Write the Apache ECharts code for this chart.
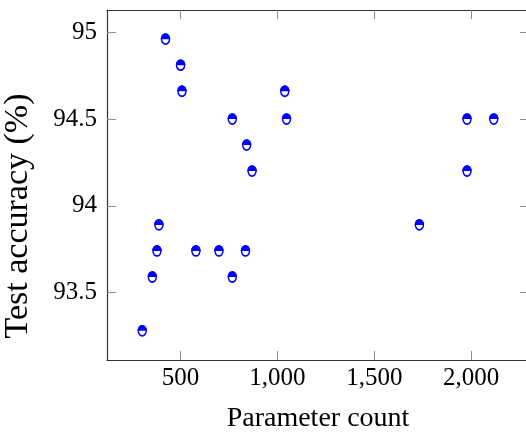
<!DOCTYPE html>
<html>
<head>
<meta charset="utf-8">
<script src="https://cdn.jsdelivr.net/npm/echarts@6/dist/echarts.min.js"></script>
<style>
html,body{margin:0;padding:0;background:#fff;}
#chart{width:526px;height:435px;}
</style>
</head>
<body>
<div id="chart"></div>
<script>
// Data
const params   = [302, 354, 378, 388, 422, 500, 507, 579, 698, 767, 767, 835, 841, 869, 1038, 1047, 1733, 1979, 1979, 2117];
const accuracy = [93.28, 93.59, 93.74, 93.89, 94.96, 94.81, 94.66, 93.74, 93.74, 94.50, 93.59, 93.74, 94.35, 94.20, 94.66, 94.50, 93.89, 94.50, 94.20, 94.50];
const xTicks = [500, 1000, 1500, 2000];
const yTicks = [93.5, 94, 94.5, 95];
const xTitle = 'Parameter count';
const yTitle = 'Test accuracy (%)';

const points = params.map((p, i) => [p, accuracy[i]]);

const FONT = 'Liberation Serif';
const BLUE = '#0000ff';
const xMin = 120, xMax = 2299, yMin = 93.112, yMax = 95.128;

const fmtX = v => Number(v).toLocaleString('en-US');

const tickStyle = { show: true, inside: true, length: 9, lineStyle: { color: '#8c8c8c', width: 1 } };
const lineStyle = { show: true, lineStyle: { color: '#333', width: 1.2 } };

const chart = echarts.init(document.getElementById('chart'), null, { renderer: 'canvas' });
chart.setOption({
  animation: false,
  backgroundColor: '#fff',
  grid: { left: 107, top: 10, width: 422, height: 350, containLabel: false, outerBoundsMode: 'none' },
  xAxis: [
    {
      type: 'value', position: 'bottom', min: xMin, max: xMax,
      axisLine: lineStyle,
      axisTick: Object.assign({ customValues: xTicks }, tickStyle),
      axisLabel: { customValues: xTicks, formatter: fmtX, fontFamily: FONT, fontSize: 25, color: '#000', margin: 6 },
      splitLine: { show: false },
      name: xTitle, nameLocation: 'middle', nameGap: 45,
      nameTextStyle: { fontFamily: FONT, fontSize: 28, color: '#000' }
    },
    {
      type: 'value', position: 'top', min: xMin, max: xMax,
      axisLine: lineStyle,
      axisTick: Object.assign({ customValues: xTicks }, tickStyle),
      axisLabel: { show: false },
      splitLine: { show: false }
    }
  ],
  yAxis: [
    {
      type: 'value', position: 'left', min: yMin, max: yMax,
      axisLine: lineStyle,
      axisTick: Object.assign({ customValues: yTicks }, tickStyle),
      axisLabel: { customValues: yTicks, formatter: v => String(v), fontFamily: FONT, fontSize: 25, color: '#000', margin: 10 },
      splitLine: { show: false },
      name: yTitle, nameLocation: 'middle', nameGap: 72, nameRotate: 90,
      nameTextStyle: { fontFamily: FONT, fontSize: 34, color: '#000', padding: [0, 62, 0, 0] }
    },
    {
      type: 'value', position: 'right', min: yMin, max: yMax,
      axisLine: lineStyle,
      axisTick: Object.assign({ customValues: yTicks }, tickStyle),
      axisLabel: { show: false },
      splitLine: { show: false }
    }
  ],
  series: [
    {
      type: 'scatter', xAxisIndex: 0, yAxisIndex: 0, data: points,
      symbol: 'circle', symbolSize: [8, 10],
      itemStyle: { color: '#fff', borderColor: BLUE, borderWidth: 1.6, opacity: 1 },
      z: 3
    },
    {
      type: 'scatter', xAxisIndex: 0, yAxisIndex: 0, data: points,
      symbol: 'path://M0,10 A10,10 0 0 1 20,10 Z', symbolSize: [9.6, 5.8], symbolOffset: [0, -2.9],
      itemStyle: { color: BLUE, opacity: 1 },
      z: 4
    }
  ]
});
</script>
</body>
</html>
